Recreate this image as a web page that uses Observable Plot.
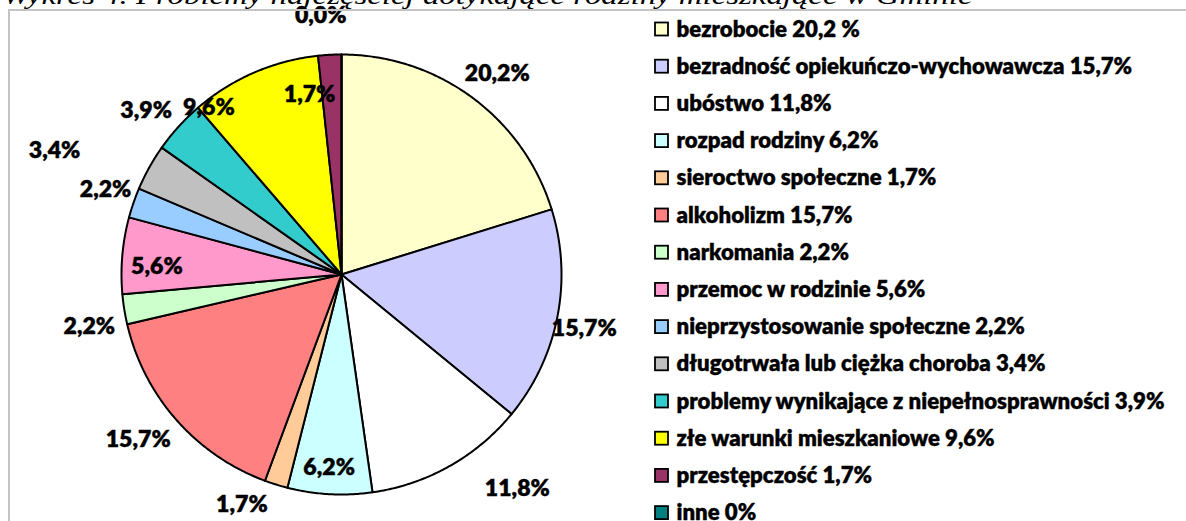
<!DOCTYPE html>
<html><head><meta charset="utf-8">
<script src="https://cdn.jsdelivr.net/npm/d3@7"></script>
<script src="https://cdn.jsdelivr.net/npm/@observablehq/plot@0.6"></script>
<style>
body{margin:0;background:#fff;}
#wrap{position:relative;width:1186px;height:521px;overflow:hidden;background:#fff;}
#frame{position:absolute;left:8px;top:9px;width:1300px;height:700px;border:2px solid #c4c4c4;pointer-events:none;}
</style></head><body><div id="wrap"><div id="frame"></div></div>
<script>
const title = "Wykres 4. Problemy najczęściej dotykające rodziny mieszkające w Gminie";
const categories = ["bezrobocie","bezradność opiekuńczo-wychowawcza","ubóstwo","rozpad rodziny","sieroctwo społeczne","alkoholizm","narkomania","przemoc w rodzinie","nieprzystosowanie społeczne","długotrwała lub ciężka choroba","problemy wynikające z niepełnosprawności","złe warunki mieszkaniowe","przestępczość","inne"];
const values = [20.2, 15.7, 11.8, 6.2, 1.7, 15.7, 2.2, 5.6, 2.2, 3.4, 3.9, 9.6, 1.7, 0];
const legendLabels = ["bezrobocie 20,2 %","bezradność opiekuńczo-wychowawcza 15,7%","ubóstwo 11,8%","rozpad rodziny 6,2%","sieroctwo społeczne 1,7%","alkoholizm 15,7%","narkomania 2,2%","przemoc w rodzinie 5,6%","nieprzystosowanie społeczne 2,2%","długotrwała lub ciężka choroba 3,4%","problemy wynikające z niepełnosprawności 3,9%","złe warunki mieszkaniowe 9,6%","przestępczość 1,7%","inne 0%"];
const colors = ["#FFFFCC","#CCCCFF","#FFFFFF","#CCFFFF","#FFCC99","#FF8080","#CCFFCC","#FF99CC","#99CCFF","#C0C0C0","#33CCCC","#FFFF00","#993366","#008080"];
// label placement (Excel best-fit): radius factor and angular nudge in degrees
const labelRadius = [1.155, 1.13, 1.26, 0.88, 1.14, 1.19, 1.17, 0.84, 1.14, 1.42, 1.16, 0.97, 0.83, 1.18];
const labelNudge = [1.4, 1.4, -10, 0.6, 6.1, 2.3, -2.5, -2.5, 0.8, -5.8, -2.2, -15, -7, -4.6];

const W = 1186, H = 521;
const cx = 341, cy = 274, R = 220;
const total = d3.sum(values);
const fmt = v => v.toFixed(1).replace(".", ",") + "%";

const slices = [];
const sliceLines = [];
let cum = 0;
values.forEach((v, i) => {
  const a0 = cum / total * 2 * Math.PI;
  cum += v;
  const a1 = cum / total * 2 * Math.PI;
  slices.push({cat: categories[i], a0, a1, i});
  const n = Math.max(1, Math.ceil((a1 - a0) / (Math.PI / 360)));
  sliceLines.push({cat: categories[i], x: cx, y: cy});
  for (let k = 0; k <= n; k++) {
    const a = a0 + (a1 - a0) * k / n;
    sliceLines.push({cat: categories[i], x: cx + R * Math.sin(a), y: cy - R * Math.cos(a)});
  }
  sliceLines.push({cat: categories[i], x: cx, y: cy});
});

const pieLabels = slices.map(s => {
  const a = (s.a0 + s.a1) / 2 + labelNudge[s.i] * Math.PI / 180;
  const r = R * labelRadius[s.i];
  return {x: cx + r * Math.sin(a), y: cy - r * Math.cos(a), text: fmt(values[s.i])};
});

const legendRows = categories.map((c, i) => ({cat: c, label: legendLabels[i], y: 29 + 37.2 * i}));

const font = "Lato, 'Open Sans', sans-serif";

const svg = Plot.plot({
  width: W, height: H, margin: 0,
  x: {domain: [0, W], range: [0, W], axis: null},
  y: {domain: [0, H], range: [0, H], axis: null},
  color: {domain: categories, range: colors},
  style: {background: "transparent", overflow: "visible"},
  marks: [
    Plot.line(sliceLines, {x: "x", y: "y", z: "cat", fill: "cat", stroke: "#000", strokeWidth: 2, strokeLinejoin: "round", curve: "linear"}),
    Plot.text(pieLabels, {x: "x", y: "y", text: "text", fontSize: 23.5, fontWeight: 800, fontFamily: font, fill: "#000", className: "pie-label", stroke: "#000", strokeWidth: 0.4}),
    Plot.rect(legendRows, {x1: () => 655, x2: () => 668, y1: d => d.y - 6.5, y2: d => d.y + 6.5, fill: "cat", stroke: "#000", strokeWidth: 1.8}),
    Plot.text(legendRows, {x: () => 676, y: "y", text: "label", textAnchor: "start", fontSize: 21.5, fontWeight: 800, fontFamily: font, fill: "#000", className: "legend-label", stroke: "#000", strokeWidth: 0.35}),
    Plot.text([title], {x: () => 2, y: () => 3, text: d => d, textAnchor: "start", lineAnchor: "bottom", fontSize: 26, fontStyle: "italic", fontFamily: "'Liberation Serif', 'DejaVu Serif', serif", fill: "#000", className: "title-mark"})
  ]
});
document.getElementById("wrap").prepend(svg);
svg.style.position = "absolute"; svg.style.left = "0"; svg.style.top = "0";
d3.select(svg).selectAll(".title-mark text").attr("textLength", 970).attr("lengthAdjust", "spacingAndGlyphs");
// fit legend font so the longest-known label matches the reference width
const legTexts = d3.select(svg).selectAll(".legend-label text").nodes();
const refLen = legTexts[1].getComputedTextLength();
if (refLen > 0) {
  const fs = 21.5 * 456 / refLen;
  legTexts.forEach(t => t.setAttribute("font-size", fs));
  d3.select(svg).select(".legend-label").attr("font-size", fs);
}
const pieTexts = d3.select(svg).selectAll(".pie-label text").nodes();
const pLen = pieTexts[0].getComputedTextLength();
if (pLen > 0) {
  const fs = 23.5 * 65 / pLen;
  d3.select(svg).select(".pie-label").attr("font-size", fs);
  pieTexts.forEach(t => t.setAttribute("font-size", fs));
}
</script>
</body></html>
